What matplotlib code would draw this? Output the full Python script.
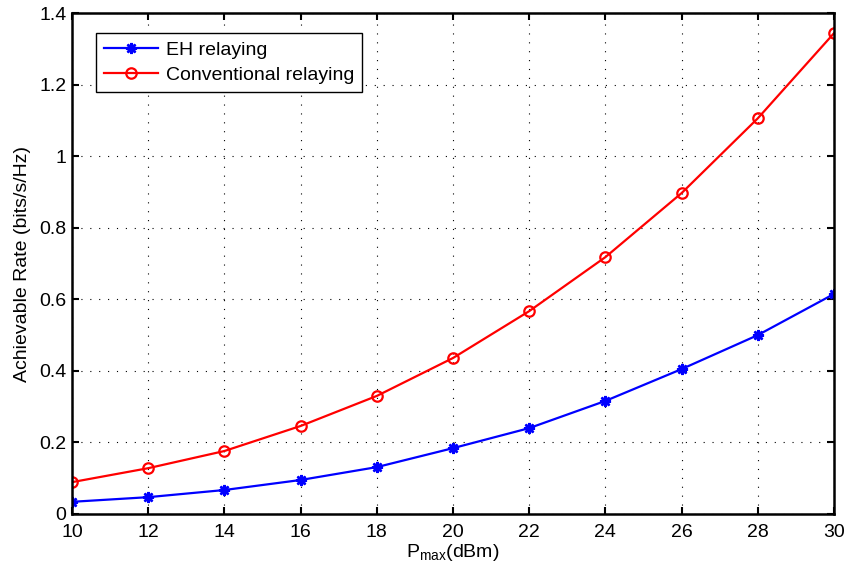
import matplotlib
matplotlib.use("Agg")
import matplotlib.pyplot as plt

plt.rcParams['font.family'] = ['Liberation Sans', 'DejaVu Sans']
plt.rcParams['mathtext.fontset'] = 'custom'
plt.rcParams['mathtext.rm'] = 'Liberation Sans'

p_max = [10, 12, 14, 16, 18, 20, 22, 24, 26, 28, 30]
eh_rate = [0.034, 0.047, 0.067, 0.095, 0.131, 0.184, 0.240, 0.316, 0.405, 0.500, 0.615]
conv_rate = [0.089, 0.128, 0.176, 0.246, 0.330, 0.436, 0.567, 0.718, 0.897, 1.106, 1.344]
x_ticks = [10, 12, 14, 16, 18, 20, 22, 24, 26, 28, 30]
y_ticks = [0, 0.2, 0.4, 0.6, 0.8, 1, 1.2, 1.4]
y_ticklabels = ['0', '0.2', '0.4', '0.6', '0.8', '1', '1.2', '1.4']

FS = 14

fig = plt.figure(figsize=(8.49, 5.73), dpi=100)
ax = fig.add_axes([0.0848, 0.103, 0.8975, 0.874])

ax.plot(p_max, eh_rate, color='#0000ff', lw=1.6, marker=(8, 2, 0),
        markersize=8, markeredgewidth=1.8, label='EH relaying')
ax.plot(p_max, conv_rate, color='#ff0000', lw=1.6, marker='o',
        markersize=7.5, markerfacecolor='none', markeredgewidth=1.6,
        label='Conventional relaying')

ax.set_xlim(10, 30)
ax.set_ylim(0, 1.4)
ax.set_xticks(x_ticks)
ax.set_yticks(y_ticks)
ax.set_yticklabels(y_ticklabels)
ax.tick_params(direction='in', top=True, right=True, length=5, width=1.5,
               labelsize=FS, colors='black')
ax.tick_params(axis='x', pad=7)
ax.tick_params(axis='y', pad=4)
for s in ax.spines.values():
    s.set_linewidth(1.8)
ax.grid(True, linestyle=(0, (1, 7)), color='black', linewidth=0.8)

ax.set_xlabel(r'P$_{\mathrm{max}}$(dBm)', fontsize=FS, labelpad=1)
ax.set_ylabel('Achievable Rate (bits/s/Hz)', fontsize=FS, labelpad=6)

leg = ax.legend(loc='upper left', bbox_to_anchor=(0.0315, 0.96), borderaxespad=0,
                fontsize=FS, fancybox=False, framealpha=1,
                edgecolor='black', handlelength=2.8, handletextpad=0.4,
                borderpad=0.4, labelspacing=0.4)
leg.get_frame().set_linewidth(1.0)

fig.savefig('out.png', dpi=100)
